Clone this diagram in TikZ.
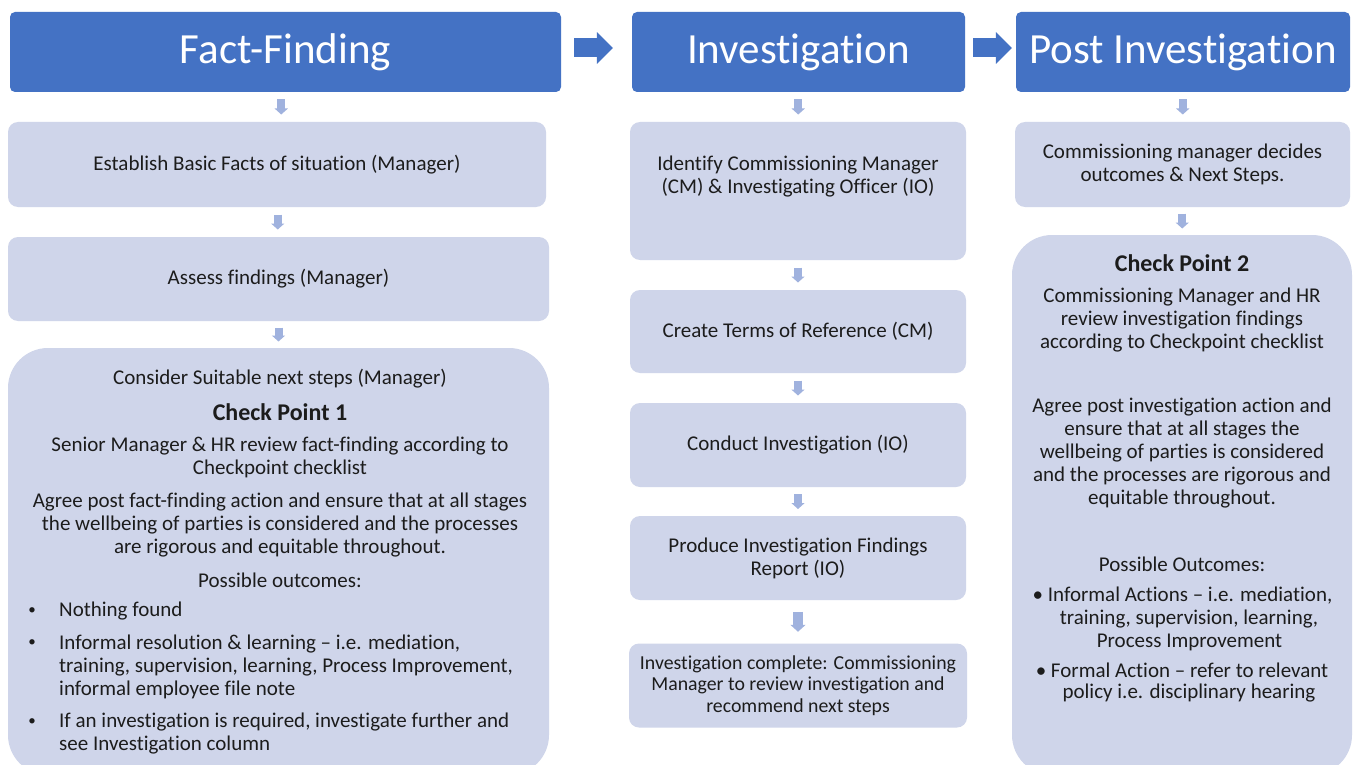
\documentclass[tikz,border=0pt]{standalone}
\usepackage{fontspec}
\setmainfont{Carlito}[Ligatures={TeX,NoCommon}]
\usetikzlibrary{arrows.meta,calc}
\definecolor{hdr}{RGB}{68,114,196}
\definecolor{boxfill}{RGB}{207,213,234}
\definecolor{arrowc}{RGB}{160,178,222}
\definecolor{txtc}{RGB}{28,28,28}
\begin{document}
\begin{tikzpicture}[x=1pt,y=-1pt,
  header/.style={fill=hdr, rounded corners=5pt, inner sep=0pt, text=white, font=\fontsize{43}{50}\selectfont},
  box/.style={fill=boxfill, rounded corners=10pt, inner sep=0pt, text=txtc, align=center, font=\fontsize{21}{23}\selectfont},
  bigbox/.style={box, rounded corners=40pt},
  body/.style={text=txtc, inner sep=0pt, align=center, font=\fontsize{21}{23}\selectfont},
  bodyleft/.style={body, align=left},
  bul/.style={text=txtc, inner sep=0pt, font=\fontsize{15}{15}\selectfont},
  cptitle/.style={text=txtc, inner sep=0pt, font=\fontsize{24}{28}\selectfont\bfseries},
  rarrow/.style={draw=hdr, line width=19pt, -{Triangle[width=31pt,length=16pt]}},
  darrow/.style={draw=arrowc, line width=8pt, -{Triangle[width=13pt,length=6pt]}},
  bigdarrow/.style={draw=arrowc, line width=10pt, -{Triangle[width=15pt,length=7pt]}}
]
\useasboundingbox (0,0) rectangle (1357,765);
\clip (0,0) rectangle (1357,765);
\fill[white] (0,0) rectangle (1357,765);

% headers
\node[header, minimum width=551pt, minimum height=80pt] (ff) at (285.5,52) {Fact-Finding};
\node[header, minimum width=333pt, minimum height=80pt] (inv) at (798.5,52) {Investigation};
\node[header, minimum width=334pt, minimum height=80pt] (pi) at (1183,52) {Post Investigation};

% column 1
\node[box, minimum width=538pt, minimum height=85pt] (est) at (277,164.5) {Establish Basic Facts of situation (Manager)};
\node[box, minimum width=541pt, minimum height=84pt] (ass) at (278.5,279) {Assess findings (Manager)};
\node[bigbox, minimum width=541pt, minimum height=427pt] (cp1) at (278.5,561.5) {};
\node[body] (cp1a) at (280,379) {Consider Suitable next steps (Manager)};
\node[cptitle] (cp1b) at (280,412) {Check Point 1};
\node[body] (cp1c) at (280,457.5) {Senior Manager \& HR review fact-finding according to\\Checkpoint checklist};
\node[body] (cp1d) at (280,525) {Agree post fact-finding action and ensure that at all stages\\the wellbeing of parties is considered and the processes\\are rigorous and equitable throughout.};
\node[body] (cp1e) at (280,580) {Possible outcomes:};
\node[bul] (b1) at (32,611) {\textbullet};
\node[bodyleft, anchor=west] (o1) at (59,611) {Nothing found};
\node[bul] (b2) at (32,643) {\textbullet};
\node[bodyleft, anchor=west] (o2) at (59,666.5) {Informal resolution \& learning – i.e. mediation,\\training, supervision, learning, Process Improvement,\\informal employee file note};
\node[bul] (b3) at (32,722) {\textbullet};
\node[bodyleft, anchor=west] (o3) at (59,733.5) {If an investigation is required, investigate further and\\see Investigation column};

% column 2
\node[box, minimum width=336pt, minimum height=138pt] (idf) at (798,191) {};
\node[body] (idft) at (798,176.5) {Identify Commissioning Manager\\(CM) \& Investigating Officer (IO)};
\node[box, minimum width=336pt, minimum height=83pt] (tor) at (798,331.5) {Create Terms of Reference (CM)};
\node[box, minimum width=336pt, minimum height=84pt] (con) at (798,445) {Conduct Investigation (IO)};
\node[box, minimum width=336pt, minimum height=84pt] (rep) at (798,558) {Produce Investigation Findings\\Report (IO)};
\node[box, minimum width=338pt, minimum height=84pt, font=\fontsize{19.8}{21.5}\selectfont] (cmp) at (798,685.5) {Investigation complete: Commissioning\\Manager to review investigation and\\recommend next steps};

% column 3
\node[box, minimum width=335pt, minimum height=85pt] (dec) at (1182.5,164.5) {Commissioning manager decides\\outcomes \& Next Steps.};
\node[bigbox, minimum width=340pt, minimum height=540pt] (cp2) at (1182,505) {};
\node[cptitle] (cp2a) at (1182,263) {Check Point 2};
\node[body] (cp2b) at (1182,320.5) {Commissioning Manager and HR\\review investigation findings\\according to Checkpoint checklist};
\node[body] (cp2c) at (1182,453.5) {Agree post investigation action and\\ensure that at all stages the\\wellbeing of parties is considered\\and the processes are rigorous and\\equitable throughout.};
\node[body] (cp2d) at (1182,564) {Possible Outcomes:};
\node[body] (cp2e) at (1182.5,596) {\textbullet\ Informal Actions – i.e. mediation,};
\node[body] (cp2f) at (1189,619) {training, supervision, learning,};
\node[body] (cp2g) at (1189.5,642) {Process Improvement};
\node[body] (cp2h) at (1182,670) {\textbullet\ Formal Action – refer to relevant};
\node[body] (cp2i) at (1189,693) {policy i.e. disciplinary hearing};

% stage arrows
\draw[rarrow] ([shift={(13,-4)}]ff.east) -- ([shift={(-19,-4)}]inv.west);
\draw[rarrow] ([shift={(8,-4)}]inv.east) -- ([shift={(-4,-4)}]pi.west);

% down arrows
\draw[darrow] ($(ff.south)!0.5!(est.north)+(0,-7.5)$) -- ($(ff.south)!0.5!(est.north)+(0,7.5)$);
\draw[darrow] ($(est.south)!0.5!(ass.north)+(0,-7.5)$) -- ($(est.south)!0.5!(ass.north)+(0,7.5)$);
\draw[darrow] ($(ass.south)!0.5!(cp1.north)+(0,-7)$) -- ($(ass.south)!0.5!(cp1.north)+(0,7)$);
\draw[darrow] ($(inv.south)!0.5!(idf.north)+(0,-7.5)$) -- ($(inv.south)!0.5!(idf.north)+(0,7.5)$);
\draw[darrow] ($(idf.south)!0.5!(tor.north)+(0,-7.5)$) -- ($(idf.south)!0.5!(tor.north)+(0,7.5)$);
\draw[darrow] ($(tor.south)!0.5!(con.north)+(0,-7.5)$) -- ($(tor.south)!0.5!(con.north)+(0,7.5)$);
\draw[darrow] ($(con.south)!0.5!(rep.north)+(0,-7.5)$) -- ($(con.south)!0.5!(rep.north)+(0,7.5)$);
\draw[bigdarrow] ($(rep.south)!0.5!(cmp.north)+(0,-10)$) -- ($(rep.south)!0.5!(cmp.north)+(0,10)$);
\draw[darrow] ($(pi.south)!0.5!(dec.north)+(0,-7.5)$) -- ($(pi.south)!0.5!(dec.north)+(0,7.5)$);
\draw[darrow] ($(dec.south)!0.5!(cp2.north)+(0,-7.5)$) -- ($(dec.south)!0.5!(cp2.north)+(0,7.5)$);
\end{tikzpicture}
\end{document}
